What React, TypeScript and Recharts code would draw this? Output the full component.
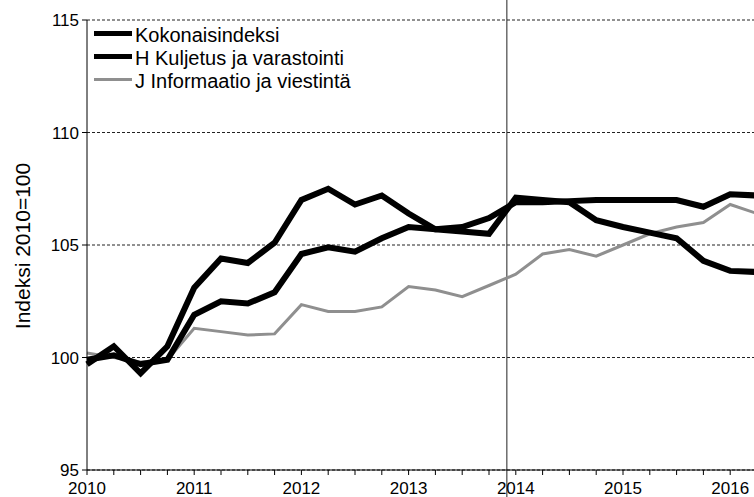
import React from "react";
import { LineChart, Line, XAxis, YAxis, CartesianGrid, ReferenceLine, Label } from "recharts";

// quarterly observations, 2010Q1 .. 2016Q2
const quarters = [
  2010, 2010.25, 2010.5, 2010.75, 2011, 2011.25, 2011.5, 2011.75, 2012, 2012.25, 2012.5, 2012.75, 2013,
  2013.25, 2013.5, 2013.75, 2014, 2014.25, 2014.5, 2014.75, 2015, 2015.25, 2015.5, 2015.75, 2016, 2016.25,
];

const kokonaisindeksi = [
  99.9, 100.1, 99.7, 99.9, 101.9, 102.5, 102.4, 102.9, 104.6, 104.9, 104.7, 105.3, 105.8,
  105.7, 105.8, 106.2, 106.9, 106.9, 106.95, 107.0, 107.0, 107.0, 107.0, 106.7, 107.25, 107.2,
];

const kuljetus = [
  99.7, 100.5, 99.3, 100.5, 103.1, 104.4, 104.2, 105.1, 107.0, 107.5, 106.8, 107.2, 106.4,
  105.7, 105.6, 105.5, 107.1, 107.0, 106.9, 106.1, 105.8, 105.55, 105.3, 104.3, 103.85, 103.8,
];

const informaatio = [
  100.2, 100.0, 99.8, 99.9, 101.3, 101.15, 101.0, 101.05, 102.35, 102.05, 102.05, 102.25, 103.15,
  103.0, 102.7, 103.2, 103.7, 104.6, 104.8, 104.5, 105.0, 105.5, 105.8, 106.0, 106.8, 106.4,
];

const yTicks = [95, 100, 105, 110, 115];
const markerYear = 2014 - 1 / 12; // the vertical divider sits just before the 2014 tick

const series = [
  { key: "kokonais", name: "Kokonaisindeksi", color: "#000000", width: 6 },
  { key: "kuljetus", name: "H Kuljetus ja varastointi", color: "#000000", width: 6 },
  { key: "informaatio", name: "J Informaatio ja viestintä", color: "#8f8f8f", width: 3 },
];

const data = quarters.map((q, i) => ({
  t: q,
  kokonais: kokonaisindeksi[i],
  kuljetus: kuljetus[i],
  informaatio: informaatio[i],
}));

const FONT = "'Liberation Sans', Arial, sans-serif";

// legend is an overlay so it doesn't eat into the plot area
function LegendBox() {
  return (
    <div
      style={{
        position: "absolute",
        left: 94,
        top: 24,
        fontFamily: FONT,
        fontSize: 20,
        lineHeight: "23px",
        color: "#000",
        pointerEvents: "none",
      }}
    >
      {series.map((s) => (
        <div key={s.key} style={{ display: "flex", alignItems: "center", height: 23, whiteSpace: "nowrap" }}>
          <span
            style={{
              display: "inline-block",
              width: 38,
              height: s.width === 6 ? 5 : 3,
              background: s.color,
              marginRight: 3,
              marginBottom: 4,
            }}
          />
          <span>{s.name}</span>
        </div>
      ))}
    </div>
  );
}

function AxisTitle(props: any) {
  const vb = props.viewBox || { x: 0, y: 20, width: 87, height: 450 };
  const cx = vb.x + 22;
  const cy = vb.y + vb.height / 2 + 1;
  return (
    <text
      x={cx}
      y={cy}
      transform={`rotate(-90 ${cx} ${cy})`}
      textAnchor="middle"
      dominantBaseline="central"
      fontFamily={FONT}
      fontSize={21}
      fill="#000"
    >
      Indeksi 2010=100
    </text>
  );
}

function TallLine(props: any) {
  const top = Math.min(props.y1, props.y2);
  const bottom = Math.max(props.y1, props.y2);
  return <line x1={props.x1} x2={props.x2} y1={top - 25} y2={bottom + 30} stroke="#222" strokeWidth={1} />;
}

export default function App() {
  return (
    <div style={{ position: "absolute", left: 0, top: 0, width: 754, height: 497, overflow: "hidden", background: "#fff" }}>
      <LineChart width={757} height={497} data={data} margin={{ top: 20, right: 0, bottom: 0, left: 0 }}>
        <CartesianGrid vertical={false} stroke="#222" strokeDasharray="3 2" strokeWidth={1} />
        <XAxis
          dataKey="t"
          type="number"
          domain={[2010, 2016.25]}
          ticks={quarters}
          interval={0}
          tickFormatter={(v: number) => (Number.isInteger(v) ? String(v) : "")}
          height={27}
          tickSize={5}
          tickMargin={7}
          stroke="#000"
          tick={{ fill: "#000", fontFamily: FONT, fontSize: 17 }}
        />
        <YAxis
          domain={[95, 115]}
          ticks={yTicks}
          width={87}
          tickSize={5}
          tickMargin={3}
          stroke="#000"
          tick={{ fill: "#000", fontFamily: FONT, fontSize: 17 }}
        >
          <Label content={<AxisTitle />} />
        </YAxis>
        <ReferenceLine x={markerYear} ifOverflow="visible" shape={<TallLine />} />
        <Line
          dataKey="informaatio"
          name="J Informaatio ja viestintä"
          stroke="#8f8f8f"
          strokeWidth={3}
          dot={false}
          isAnimationActive={false}
        />
        <Line
          dataKey="kokonais"
          name="Kokonaisindeksi"
          stroke="#000"
          strokeWidth={6}
          dot={false}
          isAnimationActive={false}
        />
        <Line
          dataKey="kuljetus"
          name="H Kuljetus ja varastointi"
          stroke="#000"
          strokeWidth={6}
          dot={false}
          isAnimationActive={false}
        />
      </LineChart>
      <LegendBox />
    </div>
  );
}
